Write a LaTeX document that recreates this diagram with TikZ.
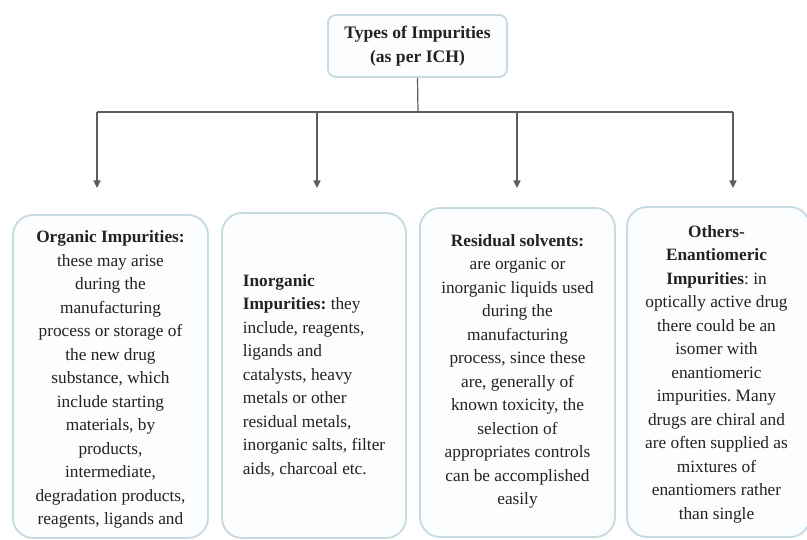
\documentclass[tikz,border=0pt]{standalone}
\usepackage{fontspec}
\setmainfont{Liberation Serif}
\usetikzlibrary{arrows.meta}
\definecolor{boxline}{HTML}{C6DAE1}
\definecolor{boxfill}{HTML}{FBFDFE}
\definecolor{conn}{HTML}{5C5C5C}
\definecolor{txt}{HTML}{222222}
\frenchspacing
\tikzset{
  catbox/.style={draw=boxline, line width=1.8pt, fill=boxfill, rounded corners=20pt, inner sep=0pt},
  cattext/.style={inner sep=0pt, text=txt, font=\fontsize{17.3}{23.5}\selectfont},
  topbox/.style={draw=boxline, line width=1.8pt, fill=boxfill, rounded corners=8pt,
    minimum width=179pt, minimum height=62pt, align=center, text=txt,
    font=\bfseries\fontsize{17.6}{24}\selectfont},
  connline/.style={draw=conn, line width=1.2pt},
  arrowline/.style={connline, -{Triangle[length=7.5pt,width=7pt]}}
}
\begin{document}
\begin{tikzpicture}[x=1pt,y=-1pt]
\useasboundingbox[fill=white] (0,0) rectangle (807,540);

\node[topbox] (top) at (417.5,46) {Types of Impurities\\(as per ICH)};

\node[catbox, minimum width=195pt, minimum height=323pt] (org) at (110.5,376.5) {};
\node[catbox, minimum width=184pt, minimum height=325pt] (inorg) at (314,375.5) {};
\node[catbox, minimum width=195pt, minimum height=329pt] (resid) at (517.5,372.5) {};
\node[catbox, minimum width=183pt, minimum height=330pt] (other) at (718.5,372) {};

\node[cattext, align=center] (orgtext) at ([yshift=-3pt]org.center)
  {\textbf{Organic Impurities:}\\ these may arise\\ during the\\ manufacturing\\ process or storage of\\ the new drug\\ substance, which\\ include starting\\ materials, by\\ products,\\ intermediate,\\ degradation products,\\ reagents, ligands and};

\node[cattext, align=left] (inorgtext) at (inorg.center)
  {\textbf{Inorganic}\\ \textbf{Impurities:} they\\ include, reagents,\\ ligands and\\ catalysts, heavy\\ metals or other\\ residual metals,\\ inorganic salts, filter\\ aids, charcoal etc.};

\node[cattext, align=center] (residtext) at ([yshift=1pt]resid.center)
  {\textbf{Residual solvents:}\\ are organic or\\ inorganic liquids used\\ during the\\ manufacturing\\ process, since these\\ are, generally of\\ known toxicity, the\\ selection of\\ appropriates controls\\ can be accomplished\\ easily};

\node[cattext, align=center] (othertext) at ([xshift=-2pt,yshift=-2pt]other.center)
  {\textbf{Others-}\\ \textbf{Enantiomeric}\\ \textbf{Impurities}: in\\ optically active drug\\ there could be an\\ isomer with\\ enantiomeric\\ impurities. Many\\ drugs are chiral and\\ are often supplied as\\ mixtures of\\ enantiomers rather\\ than single};

\coordinate (jc) at (418,112);
\coordinate (j1) at (97,112);
\coordinate (j2) at (317,112);
\coordinate (j3) at (517,112);
\coordinate (j4) at (733,112);
\coordinate (a1) at (97,188);
\coordinate (a2) at (317,188);
\coordinate (a3) at (517,188);
\coordinate (a4) at (733,188);

\draw[connline] (top.south) -- (jc);
\draw[connline] (j1) -- (j4);
\draw[arrowline] (j1) -- (a1);
\draw[arrowline] (j2) -- (a2);
\draw[arrowline] (j3) -- (a3);
\draw[arrowline] (j4) -- (a4);
\end{tikzpicture}
\end{document}
